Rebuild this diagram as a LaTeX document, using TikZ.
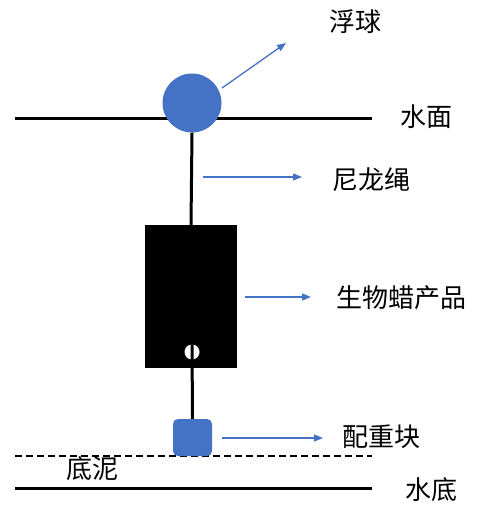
\documentclass[tikz,border=0pt]{standalone}
\usepackage{fontspec}
\newfontfamily\cjk{Noto Sans CJK SC}
\usetikzlibrary{arrows.meta}
\definecolor{myblue}{HTML}{4472C4}
\begin{document}
\begin{tikzpicture}[x=1pt,y=-1pt,
  lbl/.style={font=\cjk\fontsize{26}{30}\selectfont, inner sep=0pt},
  ptr/.style={draw=myblue, line width=1.3pt, -{Triangle[length=9pt,width=7pt]}},
  thick line/.style={line width=3pt},
  cord/.style={line width=3pt}]
\useasboundingbox (0,0) rectangle (483,505);
% water surface
\coordinate (ws1) at (15,119);
\coordinate (ws2) at (372,119);
\draw[thick line] (ws1) -- (ws2);
% bottom lines
\coordinate (mud1) at (15,456);
\coordinate (mud2) at (372,456);
\draw[line width=2.4pt, dash pattern=on 7pt off 4pt] (mud1) -- (mud2);
\coordinate (bot1) at (15,488);
\coordinate (bot2) at (372,488);
\draw[thick line] (bot1) -- (bot2);
% float
\node[circle, fill=myblue, minimum size=59pt, inner sep=0pt] (float) at (192,103) {};
% product box
\node[rectangle, fill=black, minimum width=92pt, minimum height=143pt, inner sep=0pt] (box) at (191,296.5) {};
% weight
\node[rectangle, rounded corners=5pt, fill=myblue, minimum width=39pt, minimum height=37pt, inner sep=0pt] (weight) at (192.5,437.5) {};
% cord
\coordinate (hole) at (192,352);
\draw[cord] (float.south) -- (box.north);
\node[circle, fill=white, minimum size=15pt, inner sep=0pt] (ring) at (hole) {};
\draw[cord] (ring.north) -- (weight.north);
% labels
\node[lbl] (tFloat) at (355,22) {浮球};
\node[lbl] (tSurf) at (426,117) {水面};
\node[lbl] (tCord) at (371,180) {尼龙绳};
\node[lbl] (tProd) at (401,298) {生物蜡产品};
\node[lbl] (tWeight) at (381,437) {配重块};
\node[lbl] (tMud) at (92,469) {底泥};
\node[lbl] (tBot) at (431,490) {水底};
% pointers
\coordinate (a1s) at (222,88);
\coordinate (a1e) at (286,43);
\draw[ptr] (a1s) -- (a1e);
\coordinate (a2s) at (203,177);
\coordinate (a2e) at (302,177);
\draw[ptr] (a2s) -- (a2e);
\coordinate (a3s) at (245,297);
\coordinate (a3e) at (311,297);
\draw[ptr] (a3s) -- (a3e);
\coordinate (a4s) at (222,438);
\coordinate (a4e) at (323,438);
\draw[ptr] (a4s) -- (a4e);
\end{tikzpicture}
\end{document}
